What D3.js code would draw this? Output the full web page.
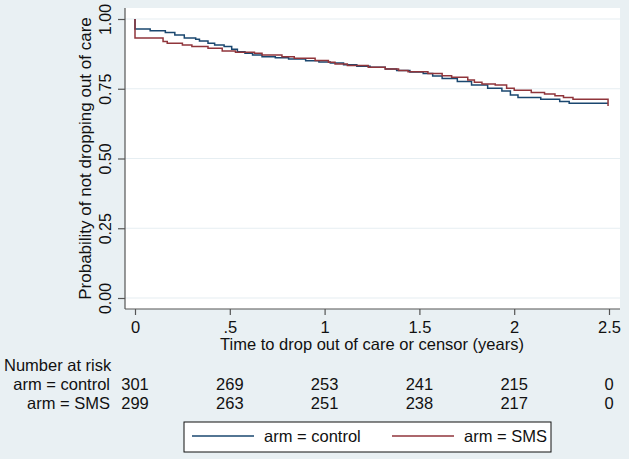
<!DOCTYPE html>
<html>
<head>
<meta charset="utf-8">
<script src="https://cdn.jsdelivr.net/npm/d3@7"></script>
<style>
  body { margin: 0; background: #e9f0f3; }
  svg { display: block; font-family: "Liberation Sans", Arial, Helvetica, sans-serif; }
</style>
</head>
<body>
<svg id="chart"></svg>
<script>
// Kaplan-Meier steps: [time in years, survival]
var controlSteps = [[0,1.0],[0,0.964],[0.08,0.958],[0.16,0.952],[0.21,0.943],[0.26,0.932],[0.32,0.927],
  [0.34,0.921],[0.385,0.913],[0.42,0.907],[0.47,0.901],[0.51,0.892],[0.54,0.883],[0.58,0.877],[0.62,0.871],
  [0.67,0.865],[0.74,0.861],[0.81,0.857],[0.9,0.850],[0.97,0.846],[1.03,0.842],[1.1,0.836],[1.17,0.831],
  [1.24,0.827],[1.32,0.821],[1.38,0.815],[1.45,0.810],[1.52,0.805],[1.57,0.796],[1.62,0.787],[1.70,0.776],
  [1.775,0.763],[1.86,0.752],[1.935,0.742],[1.98,0.728],[2.02,0.719],[2.14,0.712],[2.24,0.704],[2.29,0.698],
  [2.495,0.698]];
var smsSteps = [[0,1.0],[0,0.932],[0.148,0.919],[0.17,0.913],[0.25,0.907],[0.30,0.901],[0.385,0.895],
  [0.46,0.885],[0.53,0.881],[0.63,0.877],[0.67,0.871],[0.775,0.865],[0.84,0.859],[0.95,0.851],[1.02,0.845],
  [1.055,0.839],[1.12,0.833],[1.23,0.827],[1.32,0.821],[1.39,0.815],[1.44,0.811],[1.545,0.805],[1.62,0.797],
  [1.67,0.791],[1.755,0.781],[1.79,0.773],[1.83,0.767],[1.9,0.763],[1.96,0.752],[2.0,0.745],[2.09,0.737],
  [2.16,0.731],[2.215,0.725],[2.26,0.719],[2.31,0.712],[2.495,0.712],[2.495,0.688]];

var xTicks = [0, 0.5, 1, 1.5, 2, 2.5];
var xTickLabels = ["0", ".5", "1", "1.5", "2", "2.5"];
var yTicks = [0, 0.25, 0.5, 0.75, 1];
var riskControl = [301, 269, 253, 241, 215, 0];
var riskSMS = [299, 263, 251, 238, 217, 0];

var W = 629, H = 459;
var colControl = "#1a476f", colSMS = "#90353b";
var textCol = "#111";
var fs = "16.5px";

var svg = d3.select("#chart").attr("width", W).attr("height", H);

// plot region
var plot = {left: 125, right: 620, top: 8, bottom: 309};
var x = d3.scaleLinear().domain([0, 2.5]).range([135, 609]);
var y = d3.scaleLinear().domain([0, 1]).range([298, 19]);

svg.append("rect")
  .attr("x", plot.left).attr("y", plot.top)
  .attr("width", plot.right - plot.left).attr("height", plot.bottom - plot.top)
  .attr("fill", "#fff");

// grid lines
svg.append("g").selectAll("line")
  .data(yTicks)
  .enter().append("line")
  .attr("x1", plot.left).attr("x2", plot.right)
  .attr("y1", d => y(d)).attr("y2", d => y(d))
  .attr("stroke", "#e6eef2").attr("stroke-width", 1.2);

// y axis
var yAxis = svg.append("g")
  .attr("transform", "translate(" + plot.left + ",0)")
  .call(d3.axisLeft(y).tickValues(yTicks).tickFormat(d3.format(".2f")).tickSize(7).tickSizeOuter(0));
yAxis.select(".domain").attr("d", "M0," + plot.top + "V" + plot.bottom).attr("stroke", "#555");
yAxis.selectAll(".tick line").attr("stroke", "#555");
yAxis.selectAll(".tick text")
  .attr("x", null).attr("dy", null)
  .attr("transform", "translate(-14,0) rotate(-90)")
  .attr("text-anchor", "middle")
  .attr("fill", textCol)
  .style("font-size", "16px");

// x axis
var xAxis = svg.append("g")
  .attr("transform", "translate(0," + plot.bottom + ")")
  .call(d3.axisBottom(x).tickValues(xTicks).tickFormat((d, i) => xTickLabels[i]).tickSize(6).tickSizeOuter(0));
xAxis.select(".domain").attr("d", "M" + plot.left + ",0H" + plot.right).attr("stroke", "#555");
xAxis.selectAll(".tick line").attr("stroke", "#555");
xAxis.selectAll(".tick text")
  .attr("y", 24).attr("dy", null)
  .attr("fill", textCol)
  .style("font-size", fs);
svg.selectAll(".domain, .tick line").attr("stroke-width", 1.2);

// axis titles
svg.append("text")
  .attr("transform", "translate(91," + ((plot.top + plot.bottom) / 2) + ") rotate(-90)")
  .attr("text-anchor", "middle")
  .attr("fill", textCol)
  .style("font-size", "17px")
  .text("Probability of not dropping out of care");

svg.append("text")
  .attr("x", (x(0) + x(2.5)) / 2).attr("y", 350)
  .attr("text-anchor", "middle")
  .attr("fill", textCol)
  .style("font-size", fs)
  .text("Time to drop out of care or censor (years)");

// survival curves
var line = d3.line()
  .x(d => x(d[0]))
  .y(d => y(d[1]))
  .curve(d3.curveStepAfter);

svg.append("path").datum(controlSteps)
  .attr("fill", "none").attr("stroke", colControl).attr("stroke-width", 1.5)
  .attr("d", line);
svg.append("path").datum(smsSteps)
  .attr("fill", "none").attr("stroke", colSMS).attr("stroke-width", 1.5)
  .attr("d", line);

// number at risk table
svg.append("text")
  .attr("x", 4).attr("y", 371)
  .attr("fill", textCol).style("font-size", fs)
  .text("Number at risk");

var rows = [
  {label: "arm = control", values: riskControl, y: 390},
  {label: "arm = SMS", values: riskSMS, y: 409}
];
rows.forEach(function(r) {
  svg.append("text")
    .attr("x", 110).attr("y", r.y)
    .attr("text-anchor", "end")
    .attr("fill", textCol).style("font-size", fs)
    .text(r.label);
  svg.append("g").selectAll("text")
    .data(r.values)
    .enter().append("text")
    .attr("x", (d, i) => x(xTicks[i]))
    .attr("y", r.y)
    .attr("text-anchor", "middle")
    .attr("fill", textCol).style("font-size", fs)
    .text(d => d);
});

// legend
var legend = svg.append("g");
legend.append("rect")
  .attr("x", 184).attr("y", 422).attr("width", 367).attr("height", 30)
  .attr("fill", "#fff").attr("stroke", "#111").attr("stroke-width", 1);
var legendItems = [
  {label: "arm = control", color: colControl, x: 192},
  {label: "arm = SMS", color: colSMS, x: 392}
];
legendItems.forEach(function(it) {
  legend.append("line")
    .attr("x1", it.x).attr("x2", it.x + 62)
    .attr("y1", 436).attr("y2", 436)
    .attr("stroke", it.color).attr("stroke-width", 1.5);
  legend.append("text")
    .attr("x", it.x + 72).attr("y", 442)
    .attr("fill", textCol).style("font-size", fs)
    .text(it.label);
});
</script>
</body>
</html>
